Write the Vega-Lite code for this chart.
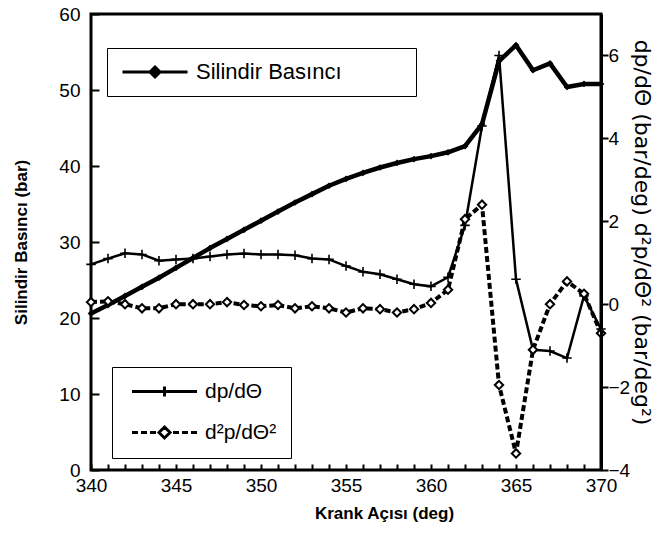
{
  "$schema": "https://vega.github.io/schema/vega-lite/v6.json",
  "width": 510,
  "height": 456,
  "autosize": {"type": "none"},
  "padding": {"left": 91, "top": 14, "right": 58, "bottom": 63},
  "background": "white",
  "config": {
    "font": "Liberation Sans",
    "view": {"stroke": "black", "strokeWidth": 3},
    "axis": {"domainColor": "black", "domainWidth": 3, "tickColor": "black", "tickWidth": 2, "tickOpacity": 1, "labelColor": "black", "titleColor": "black", "labelFont": "Liberation Sans", "titleFont": "Liberation Sans", "labelOverlap": false, "grid": false}
  },
  "datasets": {
    "pressure": [
      {"angle": 340, "p": 20.6, "series": "Silindir Basıncı"},
      {"angle": 341, "p": 21.7, "series": "Silindir Basıncı"},
      {"angle": 342, "p": 22.9, "series": "Silindir Basıncı"},
      {"angle": 343, "p": 24.1, "series": "Silindir Basıncı"},
      {"angle": 344, "p": 25.3, "series": "Silindir Basıncı"},
      {"angle": 345, "p": 26.6, "series": "Silindir Basıncı"},
      {"angle": 346, "p": 27.9, "series": "Silindir Basıncı"},
      {"angle": 347, "p": 29.2, "series": "Silindir Basıncı"},
      {"angle": 348, "p": 30.4, "series": "Silindir Basıncı"},
      {"angle": 349, "p": 31.6, "series": "Silindir Basıncı"},
      {"angle": 350, "p": 32.8, "series": "Silindir Basıncı"},
      {"angle": 351, "p": 34.0, "series": "Silindir Basıncı"},
      {"angle": 352, "p": 35.2, "series": "Silindir Basıncı"},
      {"angle": 353, "p": 36.3, "series": "Silindir Basıncı"},
      {"angle": 354, "p": 37.4, "series": "Silindir Basıncı"},
      {"angle": 355, "p": 38.3, "series": "Silindir Basıncı"},
      {"angle": 356, "p": 39.1, "series": "Silindir Basıncı"},
      {"angle": 357, "p": 39.8, "series": "Silindir Basıncı"},
      {"angle": 358, "p": 40.4, "series": "Silindir Basıncı"},
      {"angle": 359, "p": 40.9, "series": "Silindir Basıncı"},
      {"angle": 360, "p": 41.3, "series": "Silindir Basıncı"},
      {"angle": 361, "p": 41.8, "series": "Silindir Basıncı"},
      {"angle": 362, "p": 42.6, "series": "Silindir Basıncı"},
      {"angle": 363, "p": 45.5, "series": "Silindir Basıncı"},
      {"angle": 364, "p": 53.8, "series": "Silindir Basıncı"},
      {"angle": 365, "p": 55.9, "series": "Silindir Basıncı"},
      {"angle": 366, "p": 52.6, "series": "Silindir Basıncı"},
      {"angle": 367, "p": 53.5, "series": "Silindir Basıncı"},
      {"angle": 368, "p": 50.4, "series": "Silindir Basıncı"},
      {"angle": 369, "p": 50.8, "series": "Silindir Basıncı"},
      {"angle": 370, "p": 50.8, "series": "Silindir Basıncı"}
    ],
    "deriv": [
      {"angle": 340, "v": 0.96, "series": "dp/dΘ"},
      {"angle": 341, "v": 1.1, "series": "dp/dΘ"},
      {"angle": 342, "v": 1.23, "series": "dp/dΘ"},
      {"angle": 343, "v": 1.2, "series": "dp/dΘ"},
      {"angle": 344, "v": 1.05, "series": "dp/dΘ"},
      {"angle": 345, "v": 1.08, "series": "dp/dΘ"},
      {"angle": 346, "v": 1.1, "series": "dp/dΘ"},
      {"angle": 347, "v": 1.15, "series": "dp/dΘ"},
      {"angle": 348, "v": 1.2, "series": "dp/dΘ"},
      {"angle": 349, "v": 1.22, "series": "dp/dΘ"},
      {"angle": 350, "v": 1.2, "series": "dp/dΘ"},
      {"angle": 351, "v": 1.2, "series": "dp/dΘ"},
      {"angle": 352, "v": 1.18, "series": "dp/dΘ"},
      {"angle": 353, "v": 1.1, "series": "dp/dΘ"},
      {"angle": 354, "v": 1.08, "series": "dp/dΘ"},
      {"angle": 355, "v": 0.92, "series": "dp/dΘ"},
      {"angle": 356, "v": 0.78, "series": "dp/dΘ"},
      {"angle": 357, "v": 0.72, "series": "dp/dΘ"},
      {"angle": 358, "v": 0.6, "series": "dp/dΘ"},
      {"angle": 359, "v": 0.48, "series": "dp/dΘ"},
      {"angle": 360, "v": 0.43, "series": "dp/dΘ"},
      {"angle": 361, "v": 0.65, "series": "dp/dΘ"},
      {"angle": 362, "v": 1.9, "series": "dp/dΘ"},
      {"angle": 363, "v": 4.3, "series": "dp/dΘ"},
      {"angle": 364, "v": 6.0, "series": "dp/dΘ"},
      {"angle": 365, "v": 0.6, "series": "dp/dΘ"},
      {"angle": 366, "v": -1.1, "series": "dp/dΘ"},
      {"angle": 367, "v": -1.13, "series": "dp/dΘ"},
      {"angle": 368, "v": -1.3, "series": "dp/dΘ"},
      {"angle": 369, "v": 0.2, "series": "dp/dΘ"},
      {"angle": 370, "v": -0.6, "series": "dp/dΘ"},
      {"angle": 340, "v": 0.05, "series": "d²p/dΘ²"},
      {"angle": 341, "v": 0.07, "series": "d²p/dΘ²"},
      {"angle": 342, "v": 0.0, "series": "d²p/dΘ²"},
      {"angle": 343, "v": -0.1, "series": "d²p/dΘ²"},
      {"angle": 344, "v": -0.1, "series": "d²p/dΘ²"},
      {"angle": 345, "v": 0.0, "series": "d²p/dΘ²"},
      {"angle": 346, "v": 0.0, "series": "d²p/dΘ²"},
      {"angle": 347, "v": 0.0, "series": "d²p/dΘ²"},
      {"angle": 348, "v": 0.05, "series": "d²p/dΘ²"},
      {"angle": 349, "v": -0.02, "series": "d²p/dΘ²"},
      {"angle": 350, "v": -0.05, "series": "d²p/dΘ²"},
      {"angle": 351, "v": -0.02, "series": "d²p/dΘ²"},
      {"angle": 352, "v": -0.1, "series": "d²p/dΘ²"},
      {"angle": 353, "v": -0.05, "series": "d²p/dΘ²"},
      {"angle": 354, "v": -0.1, "series": "d²p/dΘ²"},
      {"angle": 355, "v": -0.2, "series": "d²p/dΘ²"},
      {"angle": 356, "v": -0.1, "series": "d²p/dΘ²"},
      {"angle": 357, "v": -0.12, "series": "d²p/dΘ²"},
      {"angle": 358, "v": -0.2, "series": "d²p/dΘ²"},
      {"angle": 359, "v": -0.12, "series": "d²p/dΘ²"},
      {"angle": 360, "v": 0.03, "series": "d²p/dΘ²"},
      {"angle": 361, "v": 0.35, "series": "d²p/dΘ²"},
      {"angle": 362, "v": 2.05, "series": "d²p/dΘ²"},
      {"angle": 363, "v": 2.4, "series": "d²p/dΘ²"},
      {"angle": 364, "v": -1.95, "series": "d²p/dΘ²"},
      {"angle": 365, "v": -3.6, "series": "d²p/dΘ²"},
      {"angle": 366, "v": -1.1, "series": "d²p/dΘ²"},
      {"angle": 367, "v": 0.0, "series": "d²p/dΘ²"},
      {"angle": 368, "v": 0.55, "series": "d²p/dΘ²"},
      {"angle": 369, "v": 0.25, "series": "d²p/dΘ²"},
      {"angle": 370, "v": -0.7, "series": "d²p/dΘ²"}
    ]
  },
  "layer": [
    {
      "data": {"name": "pressure"},
      "layer": [
        {
          "mark": {"type": "line", "strokeWidth": 4.5, "strokeJoin": "round"},
          "encoding": {
            "x": {
              "field": "angle", "type": "quantitative",
              "scale": {"domain": [340, 370], "nice": false, "zero": false},
              "axis": {
                "orient": "bottom",
                "zindex": 1,
                "offset": -6,
                "domain": false,
                "title": "Krank Açısı (deg)",
                "titleFontSize": 17, "titleFontWeight": "bold",
                "titleX": 293, "titlePadding": 10,
                "values": [340,341,342,343,344,345,346,347,348,349,350,351,352,353,354,355,356,357,358,359,360,361,362,363,364,365,366,367,368,369,370],
                "tickCount": 100,
                "format": "d",
                "labelExpr": "datum.value % 5 === 0 ? datum.label : ''",
                "labelOverlap": false,
                "labelFlush": false,
                "labelFontSize": 19, "labelPadding": 6,
                "ticks": true,
                "tickSize": 6
              }
            },
            "y": {
              "field": "p", "type": "quantitative",
              "scale": {"domain": [0, 60], "nice": false},
              "axis": {
                "orient": "left",
                "zindex": 1,
                "offset": -8,
                "domain": false,
                "title": "Silindir Basıncı (bar)",
                "titleFontSize": 17, "titleFontWeight": "bold", "titlePadding": 28,
                "values": [0, 10, 20, 30, 40, 50, 60],
                "tickCount": 100,
                "format": "d",
                "labelOverlap": false,
                "labelFontSize": 19, "labelPadding": 11,
                "ticks": true,
                "tickSize": 8
              }
            },
            "color": {
              "field": "series", "type": "nominal",
              "scale": {"domain": ["Silindir Basıncı"], "range": ["black"]},
              "legend": {
                "orient": "none", "legendX": 16, "legendY": 34,
                "title": null,
                "padding": 13,
                "strokeColor": "black",
                "cornerRadius": 0,
                "labelFontSize": 22, "labelFont": "Liberation Sans", "labelColor": "black",
                "labelLimit": 500,
                "symbolSize": 100,
                "symbolOffset": 24,
                "labelOffset": 30,
                "symbolType": "M-6.5,0H6.5M0,-1L1,0L0,1L-1,0Z",
                "symbolStrokeWidth": 3,
                "symbolFillColor": "black",
                "symbolStrokeColor": "black",
                "labelExpr": "datum.label + '\u00a0\u00a0\u00a0\u00a0\u00a0\u00a0\u00a0\u00a0\u00a0\u00a0\u200b'"
              }
            }
          }
        },
        {
          "mark": {"type": "point", "shape": "diamond", "filled": true, "color": "black", "size": 45, "opacity": 1},
          "encoding": {
            "x": {"field": "angle", "type": "quantitative"},
            "y": {"field": "p", "type": "quantitative"}
          }
        }
      ]
    },
    {
      "data": {"name": "deriv"},
      "layer": [
        {
          "transform": [{"filter": "datum.series === 'dp/dΘ'"}],
          "mark": {"type": "line", "color": "black", "strokeWidth": 2.5},
          "encoding": {
            "x": {"field": "angle", "type": "quantitative"},
            "y": {
              "field": "v", "type": "quantitative",
              "scale": {"domain": [-4, 7], "nice": false, "zero": false},
              "axis": {
                "orient": "right",
                "zindex": 1,
                "title": "dp/dΘ (bar/deg) d²p/dΘ² (bar/deg²)",
                "titleFont": "DejaVu Sans",
                "titleFontSize": 22, "titleFontWeight": "normal", "titlePadding": 0,
                "titleY": 218,
                "values": [-4, -2, 0, 2, 4, 6],
                "tickCount": 100,
                "format": "d",
                "labelOverlap": false,
                "labelFontSize": 19, "labelPadding": 0,
                "tickSize": 7
              }
            }
          }
        },
        {
          "transform": [{"filter": "datum.series === 'd²p/dΘ²'"}],
          "mark": {"type": "line", "color": "black", "strokeWidth": 4, "strokeDash": [6, 3]},
          "encoding": {
            "x": {"field": "angle", "type": "quantitative"},
            "y": {"field": "v", "type": "quantitative"}
          }
        },
        {
          "transform": [{"filter": "datum.series === 'dp/dΘ'"}],
          "mark": {"type": "point", "shape": "M-1,0H1M0,-1V1", "filled": false, "color": "black", "strokeWidth": 1.6, "size": 90, "opacity": 1},
          "encoding": {
            "x": {"field": "angle", "type": "quantitative"},
            "y": {"field": "v", "type": "quantitative"}
          }
        },
        {
          "transform": [{"filter": "datum.series === 'd²p/dΘ²'"}],
          "mark": {"type": "point", "shape": "diamond", "filled": false, "fill": "white", "fillOpacity": 1, "stroke": "black", "strokeWidth": 2, "size": 70, "opacity": 1},
          "encoding": {
            "x": {"field": "angle", "type": "quantitative"},
            "y": {"field": "v", "type": "quantitative"}
          }
        },
        {
          "mark": {"type": "point", "opacity": 0, "filled": false},
          "encoding": {
            "x": {"field": "angle", "type": "quantitative"},
            "y": {"field": "v", "type": "quantitative"},
            "shape": {
              "field": "series", "type": "nominal",
              "scale": {
                "domain": ["dp/dΘ", "d²p/dΘ²"],
                "range": [
                  "M-6.5,0H6.5M0,-1V1M-0.9,0H0.9",
                  "M-6.5,0H-5.3M-4.7,0H-3.5M-2.9,0H-1.7M1.7,0H2.9M3.5,0H4.7M5.3,0H6.5M0,-1.1L1.1,0L0,1.1L-1.1,0Z"
                ]
              },
              "legend": {
                "orient": "none", "legendX": 21, "legendY": 353,
                "title": null,
                "padding": 14,
                "rowPadding": 18,
                "strokeColor": "black",
                "cornerRadius": 0,
                "labelFontSize": 21, "labelFont": "Liberation Sans", "labelColor": "black",
                "labelLimit": 300,
                "symbolSize": 100,
                "symbolOffset": 28,
                "labelOffset": 30,
                "symbolOpacity": 1,
                "symbolStrokeColor": "black",
                "symbolFillColor": "white",
                "symbolStrokeWidth": 3
              }
            }
          }
        }
      ]
    }
  ],
  "resolve": {"scale": {"y": "independent"}}
}
